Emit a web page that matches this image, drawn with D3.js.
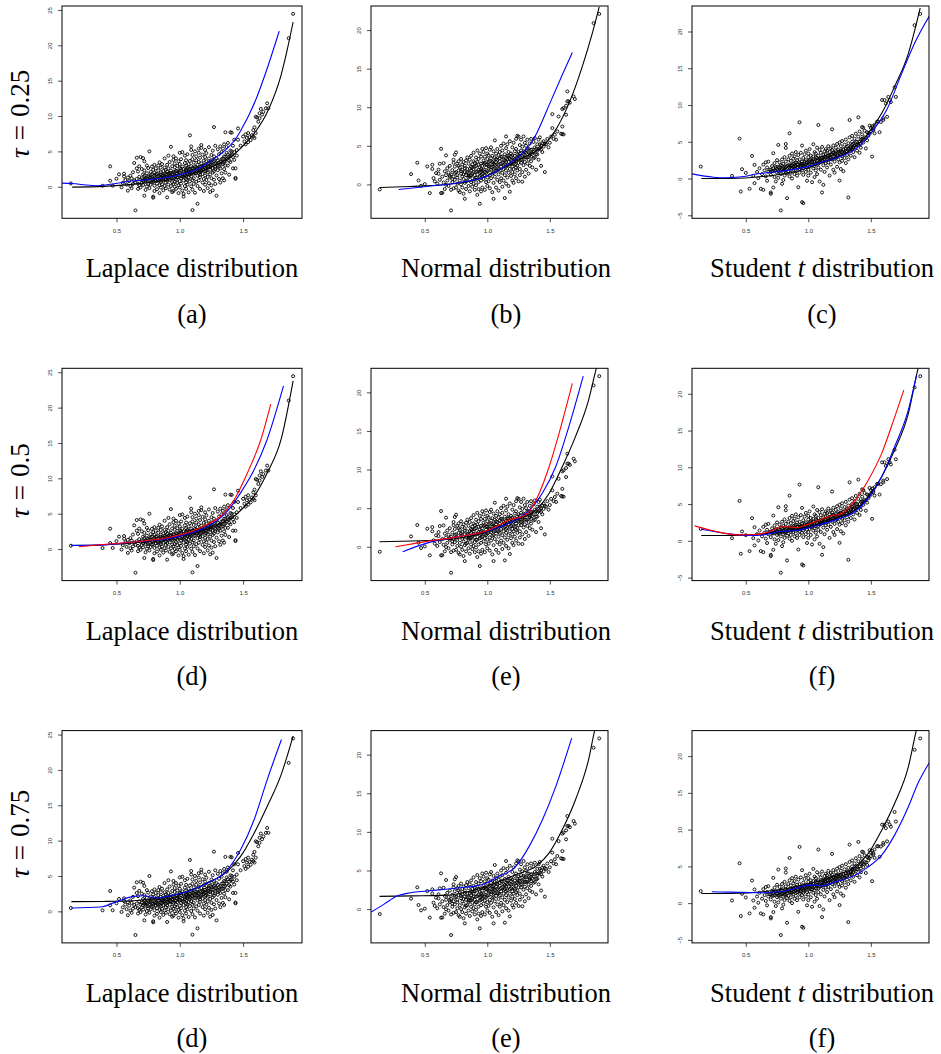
<!DOCTYPE html>
<html>
<head>
<meta charset="utf-8">
<script src="https://cdn.jsdelivr.net/npm/d3@7"></script>
<style>
  html, body { margin: 0; padding: 0; background: #fff; }
  svg { display: block; }
</style>
</head>
<body>
<svg id="chart" width="941" height="1054"></svg>
<script>
// ---------- simulated samples (x, y) for each error distribution ----------
const laplacePts = [
  [0.14,0.47],[0.39,0.14],[0.45,2.88],[0.45,0.85],[0.47,0.15],[0.50,1.13],[0.52,1.75],[0.54,-0.08],
  [0.55,0.55],[0.56,1.84],[0.56,1.45],[0.57,0.95],[0.58,0.30],[0.59,-0.55],[0.59,1.30],[0.60,0.80],
  [0.61,0.10],[0.61,1.55],[0.62,1.20],[0.62,-0.20],[0.63,0.38],[0.63,2.05],[0.64,3.35],[0.64,0.90],[0.65,-3.35],[0.65,0.60],
  [0.66,4.10],[0.66,2.60],[0.66,1.10],[0.67,2.15],[0.67,-0.30],[0.67,0.45],[0.68,1.40],[0.68,0.20],[0.68,2.90],[0.69,4.20],[0.69,1.00],[0.69,-0.10],[0.70,0.55],[0.70,2.50],
  [0.71,4.05],[0.71,1.75],[0.71,0.25],[0.72,3.60],[0.72,-1.27],[0.72,1.05],[0.72,2.30],[0.73,1.25],[0.73,-0.45],[0.73,0.70],[0.74,1.90],[0.74,0.05],[0.74,3.00],[0.75,1.45],[0.75,0.40],[0.75,2.65],
  [0.76,5.00],[0.76,0.90],[0.76,-0.20],[0.77,2.10],[0.77,1.30],[0.77,0.30],[0.78,2.85],[0.78,0.60],[0.78,1.75],[0.79,-1.40],[0.79,-1.55],[0.79,2.40],[0.79,1.05],[0.80,0.15],[0.80,3.10],[0.80,1.55],[0.80,-0.60],[0.80,2.00],
  [0.81,0.85],[0.81,2.60],[0.81,1.20],[0.82,-0.35],[0.82,1.80],[0.82,0.45],[0.83,2.30],[0.83,1.00],[0.83,3.00],[0.84,3.44],[0.84,0.20],[0.84,1.50],[0.84,-0.90],[0.85,2.05],[0.85,0.70],[0.85,1.25],[0.85,2.70],[0.85,-0.10],
  [0.86,1.60],[0.86,0.35],[0.86,3.20],[0.87,2.20],[0.87,0.90],[0.87,-0.50],[0.87,1.35],[0.88,2.70],[0.88,0.10],[0.88,1.85],[0.88,4.00],[0.89,1.10],[0.89,2.40],[0.89,-0.20],[0.89,0.60],[0.90,-1.50],[0.90,1.70],[0.90,3.10],[0.90,0.85],[0.90,2.15],
  [0.91,0.30],[0.91,4.40],[0.91,1.30],[0.91,2.60],[0.92,-0.40],[0.92,1.95],[0.92,0.95],[0.92,3.50],[0.93,5.65],[0.93,1.45],[0.93,2.30],[0.93,0.10],[0.94,2.90],[0.94,0.65],[0.94,1.75],[0.94,-0.75],[0.95,-0.60],[0.95,1.20],[0.95,3.80],[0.95,2.10],[0.95,0.40],[0.95,4.30],
  [0.96,1.55],[0.96,2.75],[0.96,0.00],[0.96,3.30],[0.97,1.00],[0.97,2.25],[0.97,-0.30],[0.97,4.00],[0.98,1.85],[0.98,0.55],[0.98,2.95],[0.98,1.30],[0.99,3.60],[0.99,0.20],[0.99,2.05],[0.99,-0.90],[1.00,1.60],[1.00,2.60],[1.00,0.80],[1.00,4.80],[1.00,3.20],[1.00,-0.10],
  [1.01,1.20],[1.01,2.30],[1.01,0.45],[1.01,3.90],[1.02,1.75],[1.02,-0.55],[1.02,2.85],[1.02,4.90],[1.03,-1.40],[1.03,-1.00],[1.03,1.40],[1.03,2.50],[1.03,0.90],[1.04,3.35],[1.04,0.10],[1.04,2.00],[1.04,4.40],[1.05,1.55],[1.05,2.95],[1.05,0.60],[1.05,-0.30],[1.05,3.75],[1.05,1.10],[1.05,2.25],
  [1.06,4.60],[1.06,1.85],[1.06,0.30],[1.06,2.70],[1.07,3.20],[1.07,1.30],[1.07,-0.80],[1.07,2.10],[1.08,7.27],[1.08,0.75],[1.08,3.65],[1.08,1.70],[1.08,2.45],[1.09,5.70],[1.09,5.20],[1.09,0.05],[1.09,2.90],[1.09,1.45],[1.10,-3.30],[1.10,3.90],[1.10,2.15],[1.10,0.95],[1.10,4.50],[1.10,-0.40],
  [1.11,2.60],[1.11,1.20],[1.11,3.40],[1.11,0.40],[1.12,5.00],[1.12,1.90],[1.12,-0.85],[1.12,2.85],[1.13,0.70],[1.13,3.75],[1.13,2.25],[1.13,4.30],[1.14,-2.40],[1.14,1.55],[1.14,3.10],[1.14,0.10],[1.14,2.55],[1.15,4.80],[1.15,1.95],[1.15,0.90],[1.15,3.50],[1.15,5.40],
  [1.16,2.80],[1.16,1.35],[1.16,4.10],[1.16,-0.30],[1.17,5.90],[1.17,5.50],[1.17,2.25],[1.17,3.30],[1.18,0.60],[1.18,1.80],[1.18,4.55],[1.18,2.95],[1.19,3.70],[1.19,1.10],[1.19,2.45],[1.19,-0.60],[1.20,4.20],[1.20,1.60],[1.20,3.05],[1.20,0.30],[1.20,2.20],[1.20,5.20],
  [1.21,3.60],[1.21,0.95],[1.21,2.60],[1.21,4.75],[1.22,1.40],[1.22,3.25],[1.22,-0.20],[1.22,2.05],[1.23,4.00],[1.23,0.50],[1.23,2.90],[1.23,5.60],[1.24,1.75],[1.24,3.55],[1.24,-0.75],[1.24,2.40],[1.25,4.50],[1.25,1.20],[1.25,0.20],[1.25,3.10],
  [1.26,2.65],[1.26,5.10],[1.26,-0.50],[1.26,3.80],[1.27,8.44],[1.27,1.00],[1.27,2.20],[1.27,4.30],[1.28,3.35],[1.28,5.80],[1.28,0.40],[1.28,2.80],[1.29,-1.27],[1.29,4.00],[1.29,1.60],[1.30,3.00],[1.30,5.30],[1.30,2.35],
  [1.31,4.60],[1.31,1.10],[1.31,3.40],[1.32,5.70],[1.32,2.60],[1.32,0.60],[1.33,3.90],[1.33,4.90],[1.33,1.90],[1.34,1.20],[1.34,3.20],[1.34,5.40],[1.35,2.50],[1.35,4.30],[1.35,0.90],[1.35,6.00],
  [1.36,7.70],[1.36,3.60],[1.36,2.00],[1.37,4.80],[1.37,5.60],[1.38,3.00],[1.38,6.20],[1.39,4.20],[1.39,1.70],[1.40,5.10],[1.40,3.50],[1.40,7.70],
  [1.41,7.65],[1.41,4.50],[1.42,5.80],[1.42,2.60],[1.43,6.65],[1.43,3.80],[1.44,1.13],[1.44,1.25],[1.44,2.60],[1.45,5.20],[1.46,8.25],[1.46,6.65],
  [1.48,5.80],[1.50,7.10],[1.51,6.40],[1.52,7.40],[1.52,6.00],[1.53,6.90],[1.54,6.30],[1.54,7.60],[1.55,7.00],[1.56,6.60],[1.57,7.30],[1.58,8.00],[1.58,7.10],[1.59,6.90],[1.59,8.40],
  [1.60,9.90],[1.60,7.60],[1.61,9.80],[1.62,9.20],[1.63,10.40],[1.63,9.70],[1.64,11.00],[1.65,10.20],[1.66,10.60],[1.68,11.10],[1.69,11.80],[1.70,11.10],
  [1.86,21.00],[1.895,24.45],
  // central core
  [0.70,1.20],[0.71,0.85],[0.72,1.55],[0.73,0.95],[0.74,1.20],[0.75,0.75],[0.76,1.35],[0.77,1.65],[0.78,1.10],[0.79,0.70],[0.80,1.30],[0.81,1.75],[0.82,1.05],[0.83,1.55],[0.84,0.85],
  [0.85,1.75],[0.86,1.15],[0.87,1.60],[0.88,1.30],[0.89,1.75],[0.90,1.35],[0.91,1.85],[0.92,1.45],[0.93,1.95],[0.94,1.30],[0.95,1.70],[0.96,2.05],[0.97,1.50],[0.98,2.20],[0.99,1.65],
  [1.00,1.95],[1.01,2.55],[1.02,1.45],[1.03,2.10],[1.04,1.70],[1.05,2.45],[1.06,2.05],[1.07,2.55],[1.08,1.95],[1.09,2.25],[1.10,2.65],[1.11,1.85],[1.12,2.35],[1.13,2.75],[1.14,2.20],
  [1.15,2.60],[1.16,2.10],[1.17,2.80],[1.18,2.40],[1.19,3.05],[1.20,2.65],[1.21,2.25],[1.22,2.85],[1.23,3.30],[1.24,2.75],[1.25,3.45],[1.26,3.05],[1.27,3.60],[1.28,2.55],[1.29,3.25],
  [1.30,3.75],[1.31,2.85],[1.32,3.55],[1.33,3.15],[1.34,3.95],[1.35,3.50],[1.36,4.25],[1.37,3.90],[1.38,4.55],[1.39,3.70],[1.40,4.45],[1.41,5.00],[1.42,4.20],[1.43,4.90],[1.45,4.40],
  [0.96,0.70],[1.06,1.00],[1.16,1.70],[1.26,2.00],[1.36,3.00]
];

const normalPts = [
  [0.14,-0.65],[0.39,1.34],[0.44,2.81],[0.45,0.52],[0.47,-0.17],[0.50,0.04],[0.52,2.33],[0.54,-1.12],[0.56,2.55],[0.56,2.00],[0.57,0.82],[0.59,1.47],[0.61,1.38],[0.62,2.68],[0.63,-1.12],[0.64,-1.10],[0.63,4.62],[0.65,2.76],[0.67,3.76],[0.67,-0.04],[0.71,-3.37],[0.73,2.80],[0.73,3.20],[0.74,3.85],[0.75,4.15],[0.75,-0.39],
  [0.58,0.40],[0.60,0.10],[0.61,1.90],[0.62,0.60],[0.64,1.00],[0.65,0.25],[0.66,1.70],[0.66,-0.60],[0.67,1.20],[0.68,2.10],[0.68,0.50],[0.69,1.55],[0.69,-0.20],[0.70,2.40],[0.70,0.90],[0.71,1.30],[0.71,-0.70],[0.72,1.85],[0.72,0.30],[0.73,1.00],[0.73,-0.50],[0.74,2.30],[0.74,0.60],[0.75,1.60],
  [0.76,2.70],[0.76,0.10],[0.76,1.20],[0.77,3.00],[0.77,-0.80],[0.77,1.80],[0.78,0.50],[0.78,2.20],[0.78,-1.00],[0.79,1.40],[0.79,3.30],[0.79,0.00],[0.80,2.60],[0.80,-0.40],[0.80,1.00],[0.80,1.90],
  [0.81,2.90],[0.81,0.70],[0.81,-1.20],[0.82,1.60],[0.82,-1.86],[0.82,2.40],[0.82,0.20],[0.83,3.10],[0.83,1.20],[0.83,-0.60],[0.84,2.00],[0.84,0.50],[0.84,3.50],[0.85,1.50],[0.85,-0.20],[0.85,2.70],[0.85,0.90],
  [0.86,3.20],[0.86,1.10],[0.86,-0.90],[0.87,2.30],[0.87,0.30],[0.87,1.80],[0.87,3.70],[0.88,0.80],[0.88,2.60],[0.88,-0.30],[0.88,1.40],[0.89,3.00],[0.89,0.10],[0.89,2.00],[0.89,4.10],[0.90,1.20],[0.90,-0.70],[0.90,2.80],[0.90,0.60],
  [0.91,3.50],[0.91,1.60],[0.91,-0.10],[0.91,2.40],[0.92,4.40],[0.92,0.90],[0.92,-1.34],[0.92,2.90],[0.93,1.90],[0.93,0.30],[0.93,3.30],[0.93,-0.60],[0.94,-2.50],[0.94,2.20],[0.94,1.10],[0.94,4.00],[0.95,0.50],[0.95,2.70],[0.95,-0.90],[0.95,1.60],[0.95,3.60],
  [0.96,4.60],[0.96,1.30],[0.96,2.40],[0.96,-0.40],[0.97,3.10],[0.97,0.70],[0.97,1.90],[0.97,4.20],[0.98,2.80],[0.98,-0.70],[0.98,1.10],[0.98,3.60],[0.99,0.30],[0.99,2.20],[0.99,4.70],[0.99,1.50],[1.00,3.30],[1.00,0.90],[1.00,-0.20],[1.00,2.60],[1.00,4.00],
  [1.01,1.80],[1.01,3.80],[1.01,0.40],[1.01,2.90],[1.02,4.50],[1.02,1.20],[1.02,2.30],[1.02,-0.50],[1.03,3.40],[1.03,0.80],[1.03,1.90],[1.03,4.80],[1.04,-1.00],[1.04,2.60],[1.04,1.40],[1.04,3.70],[1.05,-1.86],[1.05,0.20],[1.05,3.00],[1.05,2.00],[1.05,4.30],
  [1.06,5.70],[1.06,1.00],[1.06,2.50],[1.06,3.50],[1.07,-0.40],[1.07,1.70],[1.07,4.00],[1.07,2.90],[1.08,0.60],[1.08,3.20],[1.08,2.10],[1.08,4.60],[1.09,1.30],[1.09,-0.80],[1.09,3.80],[1.09,2.50],[1.10,0.30],[1.10,4.20],[1.10,1.80],[1.10,3.00],
  [1.11,2.30],[1.11,5.00],[1.11,0.80],[1.11,3.60],[1.12,1.50],[1.12,-0.30],[1.12,2.80],[1.12,4.40],[1.13,3.20],[1.13,0.50],[1.13,2.00],[1.13,5.30],[1.14,-1.77],[1.14,1.20],[1.14,3.90],[1.14,2.60],[1.15,6.22],[1.15,4.70],[1.15,0.10],[1.15,3.40],[1.15,1.80],
  [1.16,2.40],[1.16,5.20],[1.16,0.90],[1.16,3.70],[1.17,1.50],[1.17,4.20],[1.17,2.90],[1.17,-0.20],[1.18,-0.95],[1.18,3.30],[1.18,2.00],[1.18,5.60],[1.19,4.00],[1.19,1.10],[1.19,2.70],[1.19,3.60],[1.20,0.50],[1.20,4.80],[1.20,2.30],[1.20,1.60],
  [1.21,3.20],[1.21,5.40],[1.21,0.20],[1.21,2.00],[1.22,4.30],[1.22,1.30],[1.22,3.70],[1.22,2.60],[1.23,5.90],[1.23,0.80],[1.23,3.00],[1.23,4.60],[1.24,6.30],[1.24,1.80],[1.24,3.90],[1.24,2.40],[1.25,6.20],[1.25,0.40],[1.25,4.20],[1.25,3.30],
  [1.26,2.00],[1.26,5.10],[1.26,3.60],[1.26,1.20],[1.27,4.40],[1.27,2.80],[1.27,5.80],[1.28,0.35],[1.28,3.20],[1.28,4.90],[1.28,1.60],[1.29,6.22],[1.29,2.50],[1.29,3.80],[1.30,5.40],[1.30,1.00],[1.30,4.20],[1.30,2.90],
  [1.31,3.50],[1.31,5.00],[1.31,1.90],[1.32,4.60],[1.32,2.70],[1.32,5.80],[1.33,3.20],[1.33,4.10],[1.33,1.40],[1.34,5.30],[1.34,2.40],[1.34,3.80],[1.35,4.50],[1.35,3.00],[1.35,5.90],
  [1.36,4.00],[1.36,2.20],[1.37,5.50],[1.37,3.40],[1.38,4.80],[1.38,6.00],[1.39,1.90],[1.39,3.90],[1.40,5.20],[1.40,4.40],[1.41,5.80],[1.41,3.20],[1.42,4.70],[1.42,6.10],[1.43,5.00],[1.43,2.40],[1.44,5.36],[1.44,4.20],[1.45,5.60],[1.46,1.60],[1.47,5.20],[1.48,5.90],[1.49,4.80],
  [1.50,5.40],[1.51,6.20],[1.52,9.11],[1.52,7.30],[1.53,5.90],[1.54,6.44],[1.55,5.80],[1.56,6.87],[1.57,8.80],[1.59,6.57],[1.60,9.76],[1.60,6.52],[1.60,7.50],[1.61,9.90],[1.61,6.48],
  [1.63,10.20],[1.63,9.03],[1.64,10.76],[1.64,12.05],[1.65,10.76],[1.66,10.60],[1.69,11.40],[1.70,11.06],[1.85,20.90],[1.895,22.10],
  // central core
  [0.70,1.10],[0.72,0.70],[0.74,1.50],[0.76,0.90],[0.77,2.40],[0.79,1.70],[0.81,1.30],[0.82,2.10],[0.83,0.40],[0.84,1.60],[0.86,2.00],[0.87,1.20],[0.88,2.20],[0.89,1.60],[0.90,2.30],
  [0.91,0.90],[0.92,1.70],[0.93,2.60],[0.94,1.50],[0.95,2.00],[0.96,1.80],[0.97,2.70],[0.98,1.60],[0.99,2.60],[1.00,1.70],[1.01,2.40],[1.02,3.00],[1.03,2.20],[1.04,2.90],[1.05,1.50],
  [1.06,2.10],[1.07,3.30],[1.08,2.60],[1.09,2.00],[1.10,3.40],[1.11,2.70],[1.12,3.60],[1.13,2.50],[1.14,3.10],[1.15,2.30],[1.16,3.30],[1.17,3.70],[1.18,2.60],[1.19,3.20],[1.20,3.80],
  [1.21,2.70],[1.22,3.30],[1.23,2.20],[1.24,3.40],[1.25,2.80],[1.26,4.00],[1.27,3.20],[1.28,3.70],[1.29,4.30],[1.30,3.50],[1.31,4.10],[1.32,3.50],[1.33,4.60],[1.34,4.00],[1.35,3.60],
  [1.36,4.50],[1.37,4.20],[1.38,3.50],[1.39,4.60],[1.40,3.90],[1.41,4.60],[1.42,5.20],[1.43,4.50],[1.45,4.90],[1.46,5.30],[0.85,1.10],[0.95,1.20],[1.05,2.60],[1.15,2.90],[1.25,3.70]
];

const studentPts = [
  [0.14,1.63],[0.39,0.36],[0.45,5.43],[0.46,-1.76],[0.47,1.27],[0.50,0.77],[0.53,-1.40],[0.55,3.08],[0.56,0.36],[0.57,1.86],[0.57,-0.63],[0.59,0.90],[0.60,0.05],[0.61,1.40],[0.62,-1.40],[0.63,0.60],[0.64,-1.54],[0.64,1.90],[0.65,1.10],[0.66,0.30],[0.66,2.20],[0.67,1.50],[0.67,-0.30],[0.68,0.90],[0.68,2.30],[0.69,1.20],[0.70,-1.90],[0.70,-2.08],[0.70,0.50],[0.71,1.70],[0.72,3.44],[0.72,-1.22],[0.72,1.00],[0.73,2.10],[0.73,0.20],[0.74,1.40],[0.74,-0.40],[0.75,2.50],[0.75,0.80],
  [0.76,4.57],[0.76,1.60],[0.76,0.10],[0.77,1.10],[0.77,2.20],[0.78,-4.34],[0.78,0.60],[0.78,1.80],[0.79,-0.72],[0.79,1.30],[0.79,2.60],[0.80,0.90],[0.80,2.00],[0.80,-0.20],[0.81,1.50],[0.81,2.90],[0.81,0.40],[0.82,4.70],[0.82,4.16],[0.82,1.20],[0.82,2.30],[0.83,-2.67],[0.83,1.70],[0.83,0.70],[0.84,2.60],[0.84,1.00],[0.85,6.15],[0.85,1.90],[0.85,0.30],[0.85,3.10],
  [0.86,1.40],[0.86,2.40],[0.86,0.80],[0.87,1.80],[0.87,3.40],[0.87,0.00],[0.88,1.20],[0.88,2.70],[0.88,2.00],[0.89,0.60],[0.89,1.60],[0.89,3.00],[0.90,2.20],[0.90,1.00],[0.90,3.60],[0.91,1.50],[0.91,2.50],[0.91,0.40],[0.92,-1.18],[0.92,1.90],[0.92,3.20],[0.93,7.65],[0.93,1.30],[0.93,2.60],[0.93,0.80],[0.94,2.00],[0.94,3.50],[0.94,1.60],[0.95,-3.21],[0.95,4.48],[0.95,2.30],[0.95,1.10],
  [0.96,-3.35],[0.96,2.80],[0.96,1.40],[0.96,0.50],[0.97,2.00],[0.97,3.30],[0.97,1.70],[0.98,2.50],[0.98,0.90],[0.98,3.80],[0.99,1.50],[0.99,2.20],[0.99,-0.30],[1.00,2.90],[1.00,1.20],[1.00,3.40],[1.00,0.40],[1.01,2.00],[1.01,1.60],[1.01,4.00],[1.02,2.60],[1.02,0.80],[1.02,3.10],[1.03,1.90],[1.03,-0.50],[1.03,2.40],[1.04,4.66],[1.04,1.40],[1.04,3.00],[1.05,2.20],[1.05,0.20],[1.05,3.60],[1.05,1.70],
  [1.06,2.90],[1.06,1.10],[1.06,3.40],[1.07,2.40],[1.07,4.20],[1.07,0.60],[1.08,7.29],[1.08,2.00],[1.08,3.10],[1.08,1.50],[1.09,2.70],[1.09,3.90],[1.09,-0.40],[1.10,2.30],[1.10,1.20],[1.10,3.50],[1.11,-1.90],[1.11,2.80],[1.11,4.30],[1.12,-0.86],[1.12,1.80],[1.12,3.20],[1.12,2.40],[1.13,3.70],[1.13,0.90],[1.13,2.90],[1.14,2.10],[1.14,4.00],[1.14,3.30],[1.15,1.50],[1.15,2.60],[1.15,3.80],
  [1.16,3.10],[1.16,4.40],[1.16,2.20],[1.17,0.40],[1.17,3.60],[1.17,2.80],[1.18,4.10],[1.18,1.90],[1.18,3.30],[1.19,6.70],[1.19,2.60],[1.19,3.90],[1.20,1.20],[1.20,3.00],[1.20,4.50],[1.21,2.30],[1.21,3.50],[1.21,0.80],[1.22,4.20],[1.22,2.80],[1.22,3.70],[1.23,1.60],[1.23,3.20],[1.23,4.70],[1.24,2.60],[1.24,3.90],[1.25,-0.27],[1.25,3.40],[1.25,4.90],[1.25,2.20],
  [1.26,3.80],[1.26,1.30],[1.26,4.40],[1.27,3.00],[1.27,5.10],[1.27,2.40],[1.28,4.00],[1.28,3.40],[1.28,1.00],[1.29,4.60],[1.29,2.80],[1.30,3.70],[1.30,5.30],[1.30,2.10],[1.31,4.30],[1.31,3.20],[1.32,-2.58],[1.32,4.80],[1.32,2.60],[1.33,7.96],[1.33,3.90],[1.33,5.60],[1.34,4.40],[1.34,3.10],[1.35,5.00],[1.35,4.00],[1.35,5.80],
  [1.36,3.60],[1.36,4.70],[1.37,5.40],[1.37,2.90],[1.38,4.30],[1.38,6.10],[1.39,5.00],[1.39,3.80],[1.40,8.33],[1.40,4.60],[1.40,5.70],[1.41,6.40],[1.41,3.50],[1.42,5.30],[1.42,4.20],[1.43,6.00],[1.43,7.00],[1.44,6.92],[1.44,4.90],[1.45,5.60],[1.45,6.50],[1.46,4.10],[1.47,6.30],[1.48,5.80],[1.49,7.20],[1.50,6.40],
  [1.51,2.99],[1.51,7.10],[1.52,6.80],[1.53,6.15],[1.53,7.30],[1.55,7.74],[1.56,7.74],[1.57,6.30],[1.58,7.70],[1.59,10.68],[1.60,7.96],[1.60,8.20],[1.61,10.68],[1.62,10.20],[1.63,8.40],[1.64,11.10],[1.65,10.68],[1.66,10.40],[1.69,12.40],[1.70,11.10],
  [1.85,20.86],[1.895,22.40],
  // central core
  [0.70,1.20],[0.71,1.00],[0.72,1.40],[0.73,1.10],[0.74,1.60],[0.75,1.30],[0.76,1.00],[0.77,1.50],[0.78,1.20],[0.79,1.70],[0.80,1.40],[0.81,1.10],[0.82,1.60],[0.83,1.30],[0.84,1.80],
  [0.85,1.50],[0.86,1.70],[0.87,1.40],[0.88,1.60],[0.89,2.10],[0.90,1.70],[0.91,1.90],[0.92,1.50],[0.93,2.10],[0.94,1.80],[0.95,2.00],[0.96,1.70],[0.97,2.30],[0.98,1.90],[0.99,2.10],
  [1.00,2.30],[1.01,2.50],[1.02,1.90],[1.03,2.20],[1.04,2.60],[1.05,2.40],[1.06,2.00],[1.07,2.80],[1.08,2.50],[1.09,2.20],[1.10,2.80],[1.11,2.40],[1.12,2.90],[1.13,2.60],[1.14,2.90],
  [1.15,3.10],[1.16,2.70],[1.17,3.20],[1.18,2.80],[1.19,3.30],[1.20,3.50],[1.21,3.00],[1.22,3.40],[1.23,3.00],[1.24,3.60],[1.25,3.70],[1.26,3.20],[1.27,3.60],[1.28,3.90],[1.29,3.50],
  [1.30,4.10],[1.31,3.70],[1.32,4.10],[1.33,3.70],[1.34,4.20],[1.35,4.60],[1.36,4.20],[1.37,4.50],[1.38,5.00],[1.39,4.60],[1.41,5.00],[1.42,4.70],[1.43,5.40],[1.44,5.30],[1.46,5.50],
  [1.47,5.20],[1.48,6.20],[1.49,6.10],[1.50,6.90],[1.52,6.60]
];

// ---------- fitted / true quantile curves, one set per panel ----------
// row 1 (tau = 0.25)
const blackA = [[0.15,-0.05],[0.40,0.05],[0.60,0.30],[0.80,0.70],[1.00,1.25],[1.10,1.80],[1.23,2.65],[1.33,3.50],[1.43,4.60],[1.50,5.80],[1.59,7.60],[1.70,10.90],[1.80,15.80],[1.85,19.50],[1.895,23.30]];
const blueA  = [[0.07,0.52],[0.144,0.45],[0.334,0.15],[0.45,0.35],[0.597,0.75],[0.862,1.23],[1.00,1.70],[1.126,2.40],[1.258,3.82],[1.39,5.70],[1.45,7.00],[1.495,8.40],[1.55,10.30],[1.60,12.30],[1.68,16.20],[1.785,22.00]];
const blackB = [[0.138,-0.39],[0.384,-0.26],[0.648,-0.04],[0.913,0.60],[1.07,1.68],[1.23,3.00],[1.336,3.84],[1.44,4.90],[1.548,7.10],[1.653,10.50],[1.76,15.30],[1.84,19.60],[1.895,23.00]];
const blueB  = [[0.291,-0.65],[0.516,-0.26],[0.78,0.26],[0.99,1.04],[1.177,2.76],[1.25,3.60],[1.31,4.60],[1.36,5.60],[1.40,6.80],[1.45,8.60],[1.50,10.50],[1.60,14.20],[1.68,17.10]];
const blackC = [[0.144,0.00],[0.373,0.00],[0.637,0.27],[0.90,0.95],[1.06,1.86],[1.218,2.76],[1.376,4.34],[1.48,6.15],[1.587,8.87],[1.69,12.50],[1.80,17.00],[1.895,23.20]];
const blueC  = [[0.0696,0.63],[0.241,0.18],[0.334,0.10],[0.45,0.20],[0.597,0.64],[0.862,1.18],[1.00,1.65],[1.125,2.31],[1.258,3.00],[1.389,4.13],[1.52,6.60],[1.627,9.35],[1.745,14.20],[1.85,18.40],[1.975,22.30]];
// row 2 (tau = 0.5)
const blackD = [[0.144,0.50],[0.40,0.60],[0.637,0.85],[0.90,1.45],[1.00,1.80],[1.20,2.70],[1.30,3.40],[1.43,4.65],[1.50,5.80],[1.587,7.47],[1.69,10.76],[1.80,15.50],[1.895,23.80]];
const blueD  = [[0.144,0.52],[0.373,0.56],[0.637,1.00],[0.90,1.46],[1.00,1.83],[1.165,2.77],[1.27,3.70],[1.376,5.36],[1.48,7.94],[1.587,11.20],[1.69,15.50],[1.819,23.07]];
const redD   = [[0.202,0.33],[0.373,0.61],[0.637,0.99],[0.90,1.60],[1.06,2.30],[1.218,3.48],[1.323,4.65],[1.43,7.00],[1.534,10.76],[1.64,15.46],[1.719,20.50]];
const blackE = [[0.138,0.65],[0.40,0.75],[0.648,0.90],[0.913,1.55],[1.07,2.41],[1.23,3.49],[1.39,4.78],[1.495,6.94],[1.60,10.40],[1.706,14.30],[1.81,19.00],[1.87,23.00],[1.895,24.50]];
const blueE  = [[0.323,-0.65],[0.516,0.47],[0.78,1.34],[0.99,1.98],[1.177,3.06],[1.31,4.35],[1.44,6.94],[1.548,10.40],[1.653,15.60],[1.767,22.10]];
const redE   = [[0.265,0.00],[0.516,0.69],[0.78,1.34],[1.018,2.20],[1.098,2.84],[1.177,3.49],[1.283,3.92],[1.336,4.57],[1.415,6.94],[1.495,10.40],[1.574,14.70],[1.68,21.16]];
const blackF = [[0.144,0.72],[0.373,0.72],[0.637,0.95],[0.90,1.49],[1.06,2.17],[1.218,3.08],[1.376,4.20],[1.48,6.00],[1.587,8.73],[1.69,12.35],[1.80,17.30],[1.877,23.40],[1.895,24.60]];
const blueF  = [[0.144,1.58],[0.373,0.95],[0.505,0.72],[0.637,0.81],[0.77,1.27],[0.90,1.40],[1.06,2.04],[1.218,2.85],[1.376,4.00],[1.48,5.80],[1.587,8.73],[1.69,12.80],[1.80,17.80],[1.865,22.50]];
const redF   = [[0.091,2.04],[0.241,1.36],[0.426,0.81],[0.584,0.86],[0.69,1.27],[0.795,1.95],[0.90,1.81],[1.006,2.31],[1.165,3.30],[1.27,3.76],[1.376,5.57],[1.48,8.28],[1.587,11.90],[1.69,16.80],[1.764,20.50]];
// row 3 (tau = 0.75)
const blackG = [[0.144,1.37],[0.40,1.40],[0.637,1.50],[0.90,2.10],[1.06,2.80],[1.218,4.00],[1.376,5.65],[1.48,7.77],[1.587,11.06],[1.69,14.83],[1.80,19.30],[1.895,24.80]];
const blueG  = [[0.144,0.47],[0.373,0.61],[0.505,1.41],[0.637,2.12],[0.716,2.20],[0.82,1.88],[0.90,2.12],[1.06,2.82],[1.218,4.00],[1.376,5.88],[1.48,8.70],[1.587,12.95],[1.69,18.60],[1.803,24.30]];
const blackH = [[0.138,1.64],[0.40,1.70],[0.648,1.77],[0.913,2.54],[1.07,3.40],[1.23,4.48],[1.39,5.56],[1.495,7.28],[1.60,10.30],[1.706,14.20],[1.81,19.35],[1.86,23.20],[1.895,25.00]];
const blueH  = [[0.071,-0.39],[0.172,0.60],[0.278,1.68],[0.384,2.11],[0.516,2.33],[0.648,2.54],[0.78,2.76],[0.913,3.00],[1.00,3.40],[1.071,4.05],[1.23,5.56],[1.336,8.15],[1.442,11.60],[1.548,15.90],[1.675,22.15]];
const blackI = [[0.144,1.32],[0.373,1.32],[0.637,1.54],[0.90,2.22],[1.06,2.90],[1.218,3.81],[1.376,4.94],[1.48,6.76],[1.587,9.93],[1.69,13.56],[1.80,18.55],[1.864,23.50],[1.895,25.50]];
const blueI  = [[0.228,1.54],[0.373,1.50],[0.637,1.41],[0.77,1.54],[0.90,2.00],[1.006,2.45],[1.06,2.45],[1.112,2.36],[1.218,2.90],[1.376,3.81],[1.48,4.94],[1.587,6.53],[1.69,9.25],[1.80,13.10],[1.877,16.30],[1.975,19.30]];

// ---------- labels and ticks ----------
const distNames = ["Laplace", "Normal", "Student"];
const tauLabels = ["0.25", "0.5", "0.75"];
const panelLetters = [["(a)", "(b)", "(c)"], ["(d)", "(e)", "(f)"], ["(d)", "(e)", "(f)"]];
const xTicks = [0.5, 1.0, 1.5];
const yTicksByCol = [[0, 5, 10, 15, 20, 25], [0, 5, 10, 15, 20], [-5, 0, 5, 10, 15, 20]];

const samplesByCol = [laplacePts, normalPts, studentPts];
const curvesByPanel = [
  [{black: blackA, blue: blueA}, {black: blackB, blue: blueB}, {black: blackC, blue: blueC}],
  [{black: blackD, blue: blueD, red: redD}, {black: blackE, blue: blueE, red: redE}, {black: blackF, blue: blueF, red: redF}],
  [{black: blackG, blue: blueG}, {black: blackH, blue: blueH}, {black: blackI, blue: blueI}]
];

// ---------- layout ----------
const svg = d3.select("#chart");
const colBox = [[62, 302], [371, 608], [692, 929]];
const rowTop = [6, 368.3, 730.6];
const boxH = 212.3;
const captionX = [192, 506, 822];
const serif = "'Liberation Serif', 'Times New Roman', serif";
const sans = "'Liberation Sans', Arial, Helvetica, sans-serif";

// R-style 4% range extension
function padExtent([a, b]) {
  const d = (b - a) * 0.04;
  return [a - d, b + d];
}

const lineGen = (x, y) => d3.line().x(d => x(d[0])).y(d => y(d[1])).curve(d3.curveMonotoneX);

for (let r = 0; r < 3; r++) {
  for (let c = 0; c < 3; c++) {
    const [x0, x1] = colBox[c];
    const y0 = rowTop[r], y1 = y0 + boxH;
    const pts = samplesByCol[c];
    const x = d3.scaleLinear().domain(padExtent(d3.extent(pts, d => d[0]))).range([x0, x1]);
    const y = d3.scaleLinear().domain(padExtent(d3.extent(pts, d => d[1]))).range([y1, y0]);

    const g = svg.append("g");
    const clipId = `clip-${r}-${c}`;
    g.append("clipPath").attr("id", clipId)
      .append("rect").attr("x", x0).attr("y", y0).attr("width", x1 - x0).attr("height", boxH);

    const plot = g.append("g").attr("clip-path", `url(#${clipId})`);
    plot.selectAll("circle").data(pts).join("circle")
      .attr("cx", d => x(d[0])).attr("cy", d => y(d[1])).attr("r", 1.5)
      .attr("fill", "none").attr("stroke", "#000").attr("stroke-width", 0.9);

    const cv = curvesByPanel[r][c];
    const line = lineGen(x, y);
    [["black", "#000"], ["blue", "#0000ff"], ["red", "#ff0000"]].forEach(([k, col]) => {
      if (!cv[k]) return;
      plot.append("path").datum(cv[k]).attr("d", line)
        .attr("fill", "none").attr("stroke", col).attr("stroke-width", 1.1);
    });

    // axes
    const ax = g.append("g").attr("transform", `translate(0,${y1})`)
      .call(d3.axisBottom(x).tickValues(xTicks).tickFormat(d3.format(".1f")).tickSize(4).tickSizeOuter(0).tickPadding(6));
    ax.select(".domain").remove();
    ax.selectAll("line").attr("stroke", "#222").attr("stroke-width", 0.8);
    ax.selectAll("text").attr("font-family", sans).attr("font-size", 6).attr("fill", "#333");

    const ay = g.append("g").attr("transform", `translate(${x0},0)`)
      .call(d3.axisLeft(y).tickValues(yTicksByCol[c]).tickFormat(d3.format("d")).tickSize(4).tickSizeOuter(0));
    ay.select(".domain").remove();
    ay.selectAll("line").attr("stroke", "#222").attr("stroke-width", 0.8);
    ay.selectAll("text")
      .attr("x", 0).attr("y", -9.9).attr("dy", 0)
      .attr("transform", "rotate(-90)")
      .attr("text-anchor", "middle")
      .attr("font-family", sans).attr("font-size", 6).attr("fill", "#333");

    g.append("rect").attr("x", x0).attr("y", y0).attr("width", x1 - x0).attr("height", boxH)
      .attr("fill", "none").attr("stroke", "#000").attr("stroke-width", 1);

    // captions
    const cap = svg.append("text").attr("x", captionX[c]).attr("y", y0 + 271.2)
      .attr("text-anchor", "middle").attr("font-family", serif).attr("font-size", 26.5).attr("fill", "#000");
    if (distNames[c] === "Student") {
      cap.append("tspan").text("Student ");
      cap.append("tspan").attr("font-style", "italic").text("t");
      cap.append("tspan").text(" distribution");
    } else {
      cap.text(`${distNames[c]} distribution`);
    }
    svg.append("text").attr("x", captionX[c]).attr("y", y0 + 316.5)
      .attr("text-anchor", "middle").attr("font-family", serif).attr("font-size", 26.5).attr("fill", "#000")
      .text(panelLetters[r][c]);
  }

  // row label
  const t = svg.append("text")
    .attr("transform", `translate(29,${158 + 360 * r}) rotate(-90)`)
    .attr("text-anchor", "start").attr("font-family", serif).attr("font-size", 27).attr("fill", "#000");
  t.append("tspan").attr("font-style", "italic").text("τ");
  t.append("tspan").attr("dx", 8).text("=");
  t.append("tspan").attr("dx", 8).text(tauLabels[r]);
}
</script>
</body>
</html>
